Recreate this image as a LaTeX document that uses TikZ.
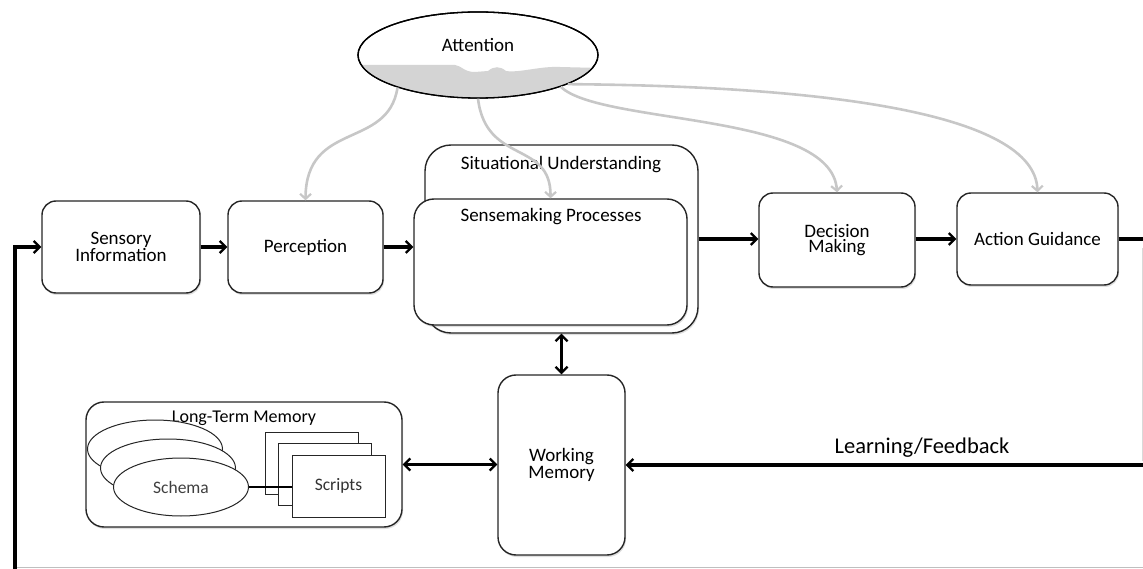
\documentclass[tikz,border=0pt]{standalone}
\usepackage{fontspec}
\setmainfont{Carlito}
\usetikzlibrary{arrows.meta,shapes.geometric,shadows}

\newcommand\lblfont{\fontsize{19}{12.5}\selectfont}
\newcommand\smallfont{\fontsize{17.5}{18}\selectfont}

\begin{document}
\begin{tikzpicture}[x=1pt,y=-1pt,
  box/.style={draw=black!85, line width=1.4pt, rounded corners=14pt, fill=white,
    drop shadow={shadow xshift=1pt, shadow yshift=-2pt, opacity=0.25},
    font=\lblfont, align=center, inner sep=0pt},
  lbl/.style={font=\lblfont, align=center, inner sep=0pt},
  flow/.style={line width=3.2pt, black, -{Straight Barb[length=6pt,width=12pt,line width=2.2pt]}},
  flowboth/.style={line width=3.2pt, black, {Straight Barb[length=6pt,width=12pt,line width=2.2pt]}-{Straight Barb[length=6pt,width=12pt,line width=2.2pt]}},
  focus/.style={line width=2.6pt, black!22, -{Straight Barb[length=5pt,width=11pt,line width=2.2pt]}},
  schema/.style={ellipse, draw=black!85, line width=1pt, fill=white, minimum width=135pt, minimum height=58pt, inner sep=0pt},
  script/.style={draw=black!85, line width=1pt, fill=white, minimum width=93pt, minimum height=62pt, inner sep=0pt}
]
\useasboundingbox (0,0) rectangle (1143,569);

% frame edges
\draw[black!25, line width=0.8pt] (15,567.5) -- (1143,567.5);
\draw[black!15, line width=0.8pt] (1142.5,248) -- (1142.5,461);

% attention
\node[ellipse, draw=black, line width=1.3pt, fill=white, minimum width=240pt, minimum height=86pt] (att) at (478,55) {};
\begin{scope}
  \clip (478,55) ellipse [x radius=119.4pt, y radius=42.4pt];
  \fill[black!17] (350,65) -- (455,65) .. controls (462,66) and (464,72) .. (475,72)
    -- (488,71) .. controls (494,66) and (500,66) .. (506,71)
    .. controls (520,73) and (540,66) .. (560,67) -- (600,68) -- (600,110) -- (350,110) -- cycle;
\end{scope}
\draw[black, line width=1.3pt] (478,55) ellipse [x radius=120pt, y radius=43pt];
\node[lbl] (attlbl) at (478,45) {Attention};

% main chain
\node[box, minimum width=158pt, minimum height=92pt] (sens) at (121,247) {Sensory\\Information};
\node[box, minimum width=155pt, minimum height=92pt] (perc) at (305.5,247) {Perception};
\node[box, rounded corners=26pt, minimum width=273pt, minimum height=188pt] (situ) at (561.5,239) {};
\node[lbl] (situlbl) at (561,165) {Situational Understanding};
\node[box, rounded corners=20pt, minimum width=273pt, minimum height=126pt] (sense) at (550.5,262) {};
\node[lbl] (senselbl) at (551,217) {Sensemaking Processes};
\node[box, minimum width=156pt, minimum height=94pt] (dm) at (837,240) {Decision\\Making};
\node[box, minimum width=161pt, minimum height=92pt] (ag) at (1037.5,239) {Action Guidance};

% memory
\node[box, rounded corners=18pt, minimum width=127pt, minimum height=180pt] (wm) at (561.5,465) {Working\\Memory};
\node[box, rounded corners=18pt, minimum width=316pt, minimum height=125pt] (ltm) at (244,464.5) {};
\node[lbl, font=\fontsize{18}{18}\selectfont] (ltmlbl) at (244,418) {Long-Term Memory};

\node[schema] (sch3) at (155,449) {};
\node[schema] (sch2) at (168,468) {};
\node[schema, font=\smallfont, text=black!75] (sch1) at (181,487) {Schema};

\node[script] (scr3) at (311.5,463) {};
\node[script] (scr2) at (325,474.5) {};
\node[script, font=\smallfont, text=black!80] (scr1) at (338.5,486) {Scripts};
\draw[black, line width=2.5pt] (sch1.east) -- (scr1.west |- sch1.east);

% connectors
\coordinate (fbL) at (15,569);
\coordinate (agOut) at (1143,239);
\coordinate (fbR) at (1143,465);

\draw[flow] (fbL) |- (sens.west);
\draw[flow] (sens.east) -- (perc.west);
\draw[flow] (perc.east) -- (perc.east -| sense.west);
\draw[flow] (situ.east) -- (situ.east -| dm.west);
\draw[flow] (dm.east |- ag.west) -- (ag.west);
\draw[line width=3.2pt] (ag.east) -- (agOut);
\draw[flowboth] (situ.south) -- (wm.north);
\draw[flowboth] (ltm.east) -- (wm.west |- ltm.east);
\draw[flow] (fbR) -- (fbR -| wm.east);
\node[font=\fontsize{22.5}{22}\selectfont, inner sep=0pt] (fblbl) at (922,448) {Learning/Feedback};

% attention focus arrows
\draw[focus] (att.202) .. controls (388,150) and (306,120) .. (perc.north);
\draw[focus] (att.270) .. controls (486,165) and (551,140) .. (sense.north);
\draw[focus] (att.339) .. controls (600,125) and (832,112) .. (dm.north);
\draw[focus] (att.342) .. controls (820,86) and (1035,112) .. (ag.north);

\end{tikzpicture}
\end{document}
